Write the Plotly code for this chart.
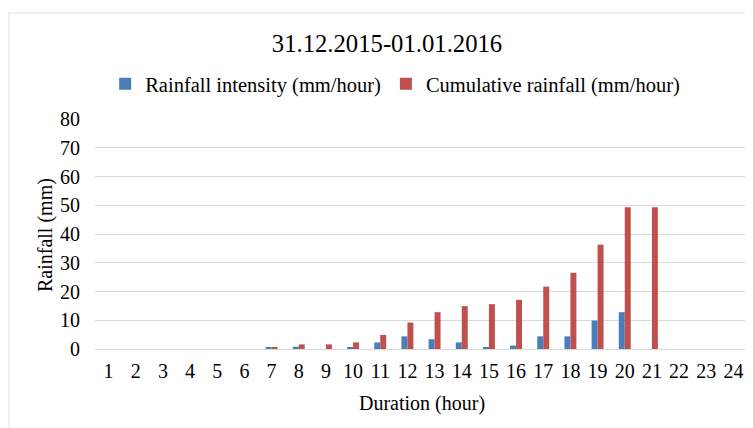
import plotly.graph_objects as go

hours = [str(h) for h in range(1, 25)]
intensity = [0, 0, 0, 0, 0, 0, 0.5, 0.8, 0, 0.5, 2.3, 4.4, 3.4, 2.3, 0.5, 1.2, 4.4, 4.4, 9.9, 12.8, 0, 0, 0, 0]
cumulative = [0, 0, 0, 0, 0, 0, 0.5, 1.6, 1.6, 2.3, 4.9, 9.2, 12.8, 14.9, 15.6, 17.1, 21.7, 26.5, 36.3, 49.3, 49.3, 0, 0, 0]
y_ticks = [0, 10, 20, 30, 40, 50, 60, 70, 80]

FONT = "Liberation Serif, Times New Roman, serif"
W, H = 745, 420  # page body has an 8px margin

fig = go.Figure()
fig.add_trace(go.Bar(x=hours, y=intensity, name="Rainfall intensity (mm/hour)",
                     marker=dict(color="#4a7ebb", line=dict(width=0))))
fig.add_trace(go.Bar(x=hours, y=cumulative, name="Cumulative rainfall (mm/hour)",
                     marker=dict(color="#c0504d", line=dict(width=0))))

fig.update_layout(
    width=W, height=H,
    paper_bgcolor="white", plot_bgcolor="white",
    font=dict(family=FONT, size=20, color="#000000"),
    margin=dict(l=87, r=6, t=111, b=79, autoexpand=False),
    barmode="group", bargap=0.56, bargroupgap=0,
    title=dict(text="31.12.2015-01.01.2016", x=379 / W, xanchor="center",
               y=1 - 35 / H, yanchor="middle", font=dict(size=24.7)),
    legend=dict(orientation="h", x=343 / W, xanchor="center", y=1 - 76 / H,
                yref="container", yanchor="middle",
                font=dict(size=20.5), itemwidth=30, tracegroupgap=0),
    xaxis=dict(showgrid=False, showline=False, ticks="", tickfont=dict(size=20),
               ticklabelstandoff=8, automargin=False),
    yaxis=dict(range=[0, 80], tickvals=y_ticks, showgrid=True, gridcolor="#d9d9d9",
               gridwidth=1, zeroline=True, zerolinecolor="#d9d9d9", zerolinewidth=1,
               ticks="", tickfont=dict(size=20), ticklabelstandoff=14, automargin=False),
    annotations=[
        dict(text="Duration (hour)", xref="paper", yref="paper",
             x=(414 - 87) / 652, y=-(395 - 341) / 230, xanchor="center", yanchor="middle",
             showarrow=False, font=dict(size=20)),
        dict(text="Rainfall (mm)", xref="paper", yref="paper", textangle=-90,
             x=-(87 - 37) / 652, y=(341 - 227) / 230, xanchor="center", yanchor="middle",
             showarrow=False, font=dict(size=20)),
    ],
    shapes=[dict(type="rect", xref="paper", yref="paper",
                 x0=-86 / 652, x1=1 + 20 / 652, y0=-100 / 230, y1=1 + 106 / 230,
                 line=dict(color="#e0e0e0", width=1), fillcolor="rgba(0,0,0,0)",
                 layer="below")],
)

fig.write_html("out.html")
